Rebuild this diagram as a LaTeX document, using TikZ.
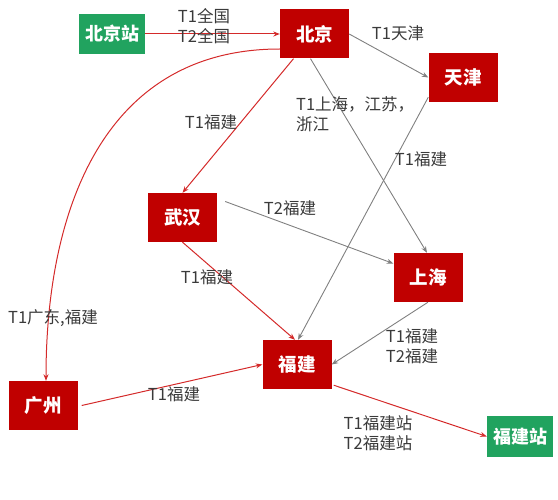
\documentclass[tikz,border=0pt]{standalone}
\usepackage{fontspec}
\setmainfont{Noto Sans CJK SC}
\usepackage{tikz}
\usetikzlibrary{arrows.meta}
\definecolor{rojo}{HTML}{C00000}
\definecolor{verde}{HTML}{21A35F}
\definecolor{linea}{HTML}{D42A2A}
\definecolor{gris}{HTML}{808080}
\definecolor{texto}{HTML}{3A3A3A}
\tikzstyle{ciudad} = [fill=rojo, text=white, font=\fontsize{18.5}{20}\selectfont\bfseries, minimum width=69pt, minimum height=49pt, inner sep=0pt]
\tikzstyle{estacion} = [fill=verde, text=white, font=\fontsize{18}{20}\selectfont\bfseries, minimum width=66pt, minimum height=40pt, inner sep=0pt]
\tikzstyle{ruta} = [draw=linea, line width=1pt, -{Stealth[length=6.5pt, width=5pt]}]
\tikzstyle{ramal} = [draw=gris, line width=0.9pt, -{Stealth[length=6.5pt, width=5pt]}]
\tikzstyle{etiqueta} = [text=texto, font=\fontsize{16.5}{20}\selectfont, align=center, inner sep=0pt]

\begin{document}
\begin{tikzpicture}[x=1pt, y=-1pt]
	\useasboundingbox (0,0) rectangle (558,500);
	\node[estacion] (bjz) at (112,34) {北京站};
	\node[ciudad] (bj) at (314.5,34) {北京};
	\node[ciudad] (tj) at (463,77.5) {天津};
	\node[ciudad] (wh) at (182.5,217.5) {武汉};
	\node[ciudad] (sh) at (428,277.5) {上海};
	\node[ciudad] (fj) at (297,364.5) {福建};
	\node[ciudad] (gz) at (43,405.5) {广州};
	\node[estacion] (fjz) at (520,436.5) {福建站};

	\draw[ramal] (bj.east) -- (tj.west);
	\draw[ramal] ([xshift=-4pt]bj.south) -- ([xshift=-1pt]sh.north);
	\draw[ramal] ([yshift=5pt]tj.south west) -- ([xshift=1pt]fj.north);
	\draw[ramal] ([shift={(8pt,16pt)}]wh.east) -- ([yshift=14pt]sh.west);
	\draw[ramal] (sh.south) -- (fj.east);
	\draw[ruta] (bjz) -- (bj);
	\draw[ruta] ([xshift=-21pt]bj.south) -- (wh.north);
	\draw[ruta] ([yshift=-15pt]bj.west) to[out=180, in=90, looseness=1.1] ([xshift=3pt]gz.north);
	\draw[ruta] (wh.south) -- ([xshift=-2pt]fj.north);
	\draw[ruta] ([xshift=4pt]gz.east) -- (fj.west);
	\draw[ruta] ([shift={(2pt,4pt)}]fj.south east) -- (fjz.west);

	\node[etiqueta] (e1) at (204,26) {T1全国\\T2全国};
	\node[etiqueta] (e2) at (398,33) {T1天津};
	\node[etiqueta] (e3) at (211,122) {T1福建};
	\node[etiqueta, align=left, anchor=west] (e4) at (296,114) {T1上海，江苏，\\浙江};
	\node[etiqueta] (e5) at (421,159) {T1福建};
	\node[etiqueta] (e6) at (290,208) {T2福建};
	\node[etiqueta] (e7) at (207,277) {T1福建};
	\node[etiqueta] (e8) at (53,318) {T1广东,福建};
	\node[etiqueta] (e9) at (174,394) {T1福建};
	\node[etiqueta] (e10) at (412,346) {T1福建\\T2福建};
	\node[etiqueta] (e11) at (378,433) {T1福建站\\T2福建站};
\end{tikzpicture}
\end{document}
